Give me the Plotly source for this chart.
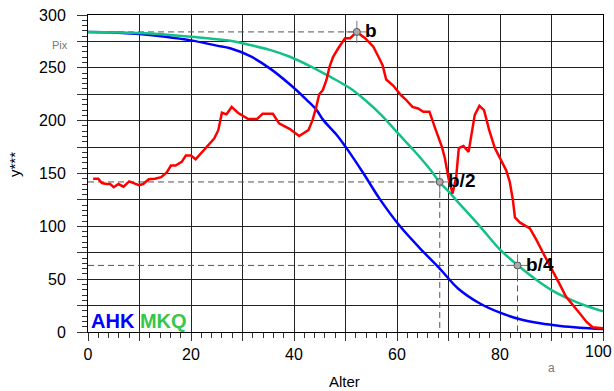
import plotly.graph_objects as go

# Alter (x) / y*** values for the three series
red_x = [1.0, 2.0, 2.7, 3.6, 4.3, 5.0, 5.9, 6.9, 8.0, 9.0, 9.9, 10.7, 11.8, 13.0, 14.2,
         15.3, 16.1, 17.0, 18.2, 19.0, 20.0, 20.9, 22.1, 23.4, 24.5, 25.3, 26.0, 26.9,
         27.9, 29.1, 31.1, 32.8, 33.9, 35.9, 37.1, 39.2, 41.0, 42.8, 43.6, 44.3, 44.9,
         45.6, 46.3, 46.9, 47.6, 48.6, 49.9, 50.9, 52.2, 53.8, 55.4, 56.4, 57.2, 57.9,
         59.3, 60.7, 61.7, 63.0, 64.1, 65.1, 66.3, 67.4, 68.7, 69.3, 70.0, 70.8, 71.5,
         72.0, 72.9, 73.9, 74.5, 75.1, 76.0, 76.9, 77.9, 79.0, 80.0, 81.2, 81.9, 82.5,
         82.9, 83.9, 85.8, 87.1, 88.4, 90.0, 91.5, 92.8, 94.2, 95.5, 96.8, 98.0, 100.0]
red_y = [145, 145, 141, 140, 140, 137, 140, 137.5, 142.5, 140.5, 139, 140, 144.5, 145, 146.5,
         151, 157.5, 157.5, 161, 167, 167, 163.5, 170, 177, 183, 191, 207.5, 206,
         213, 207.5, 201.5, 201.5, 206.5, 206.5, 197.5, 192, 185.5, 191, 200.5, 212.5, 225,
         229, 238.5, 251, 260.5, 268.5, 278, 278, 284, 278, 270, 260.5, 252.5, 239,
         233, 224.5, 220, 213, 211.5, 208.5, 208.5, 193, 175.5, 164.5, 145.5, 131, 147,
         174, 176, 170.5, 186.5, 205.5, 214, 210, 191, 174, 164.5, 153, 142, 125,
         108.5, 103.5, 98, 87, 74.5, 60.5, 46, 33.5, 25.5, 17.5, 9.5, 4.5, 3.5]

ahk_x = [0, 5, 10, 15, 20, 25, 27.6, 31.5, 35.3, 39.4, 42.5, 44.4, 45.7, 48.3, 50.2,
         53.5, 56.7, 60.6, 64.5, 68.3, 71.9, 76.1, 80.0, 83.9, 87.8, 91.7, 95.5, 100]
ahk_y = [284, 283.5, 282, 279.5, 276, 271, 268.5, 261, 249.5, 233.5, 219.5, 210, 200.5, 186.5, 174,
         150, 125.5, 100, 79, 60, 41, 27, 18.3, 12, 8.2, 5.7, 4.1, 2.8]

mkq_x = [0, 10, 20, 25, 27.6, 31.5, 35.3, 39.2, 43.1, 47.0, 50.9, 53.8, 57.3, 59.9,
         63.2, 66.4, 68.3, 70.0, 72.2, 76.1, 80.0, 83.4, 87.1, 90.0, 93.6, 96.8, 100]
mkq_y = [284, 283, 279.5, 277, 275.7, 271.6, 267, 260.5, 251.7, 241.6, 230.6, 219.5, 203.7, 189.6,
         172.2, 154, 141.5, 133, 121, 100, 78, 63.4, 49.2, 39.7, 30.9, 24.6, 19.5]

# Reference points b, b/2, b/4
ref_x = [52.2, 68.3, 83.4]
ref_y = [284, 142, 63]
ref_text = ["b", "b/2", "b/4"]

x_ticks = list(range(0, 101, 10))
# the last label (100) sits at the right page edge and is drawn separately
x_labels = [str(v) if (v % 20 == 0 and v < 100) else "" for v in x_ticks]
y_ticks = list(range(0, 301, 25))
y_labels = [str(v) if v % 50 == 0 else "" for v in y_ticks]

FONT = "Liberation Sans, Arial"
GREEN = "#14c08a"
fig = go.Figure()

# dashed guide lines to the axes
for i, (px, py) in enumerate(zip(ref_x, ref_y)):
    fig.add_trace(go.Scatter(x=[0, px], y=[py, py], mode="lines",
                             line=dict(color="#555", width=1, dash="6px,4px"),
                             hoverinfo="skip", showlegend=False))
    if i > 0:
        fig.add_trace(go.Scatter(x=[px, px], y=[py, 0], mode="lines",
                                 line=dict(color="#555", width=1, dash="6px,4px"),
                                 hoverinfo="skip", showlegend=False))

fig.add_trace(go.Scatter(x=ahk_x, y=ahk_y, mode="lines", line=dict(color="#0000ff", width=2.5, shape="spline"),
                         name="AHK", showlegend=False))
fig.add_trace(go.Scatter(x=mkq_x, y=mkq_y, mode="lines", line=dict(color=GREEN, width=2.5, shape="spline"),
                         name="MKQ", showlegend=False))
fig.add_trace(go.Scatter(x=red_x, y=red_y, mode="lines", line=dict(color="#ff0000", width=2.5),
                         name="y", showlegend=False))

# crosshair markers
fig.add_trace(go.Scatter(x=ref_x, y=ref_y, mode="markers",
                         marker=dict(symbol="cross-thin", size=16, line=dict(color="#777", width=1)),
                         hoverinfo="skip", showlegend=False))
fig.add_trace(go.Scatter(x=ref_x, y=ref_y, mode="markers",
                         marker=dict(symbol="circle", size=7, color="#aaaaaa", line=dict(color="#555", width=1)),
                         hoverinfo="skip", showlegend=False))

for px, py, t in zip(ref_x, ref_y, ref_text):
    fig.add_annotation(x=px, y=py, text="<b>%s</b>" % t, showarrow=False, xanchor="left",
                       yanchor="middle", xshift=6, yshift=1,
                       font=dict(family=FONT, size=19, color="black"))

fig.add_annotation(x=0, y=0, xref="x", yref="y", xanchor="left", yanchor="bottom", xshift=1, yshift=-2,
                   text="<b><span style='color:#0000ff'>AHK</span> <span style='color:#33c84a'>MKQ</span></b>",
                   showarrow=False, font=dict(family=FONT, size=20))
fig.add_annotation(x=-0.054, y=0.905, xref="paper", yref="paper", text="Pix", showarrow=False,
                   xanchor="center", yanchor="middle",
                   font=dict(family=FONT, size=11, color="#777"))
fig.add_annotation(x=90, y=0, xref="x", yref="paper", yanchor="top", yshift=-27, text="a",
                   showarrow=False, font=dict(family=FONT, size=12, color="#777"))
fig.add_annotation(x=x_ticks[-1], y=0, xref="x", yref="paper", xanchor="right", yanchor="top",
                   xshift=11, yshift=-9, text=str(x_ticks[-1]), showarrow=False,
                   font=dict(family=FONT, size=16, color="black"))

# axis titles
fig.add_annotation(x=0.499, y=-0.1546, xref="paper", yref="paper", text="Alter", showarrow=False,
                   xanchor="center", yanchor="middle", font=dict(family=FONT, size=15, color="black"))
fig.add_annotation(x=-0.1417, y=0.527, xref="paper", yref="paper", text="y***", showarrow=False,
                   textangle=-90, xanchor="center", yanchor="middle",
                   font=dict(family=FONT, size=15, color="black"))

axis_common = dict(showline=True, linecolor="black", linewidth=1, mirror=True,
                   showgrid=True, gridcolor="#222", gridwidth=1, zeroline=False,
                   ticks="outside", tickcolor="#333", ticklabeloverflow="allow", automargin=False,
                   tickfont=dict(family=FONT, size=16, color="black"))

fig.update_xaxes(range=[0, 100], tickmode="array", tickvals=x_ticks, ticktext=x_labels, ticklen=8,
                 minor=dict(dtick=2, ticks="outside", ticklen=5, tickcolor="#333", showgrid=False),
                 **axis_common)
fig.update_yaxes(range=[0, 300], tickmode="array", tickvals=y_ticks, ticktext=y_labels, ticklen=10,
                 ticklabelstandoff=8,
                 minor=dict(dtick=5, ticks="outside", ticklen=5, tickcolor="#333", showgrid=False),
                 **axis_common)

fig.update_layout(width=614, height=391, margin=dict(l=88, r=11, t=15, b=59),
                  font=dict(family=FONT, color="black"),
                  paper_bgcolor="white", plot_bgcolor="white", showlegend=False)

fig.write_html("out.html")
